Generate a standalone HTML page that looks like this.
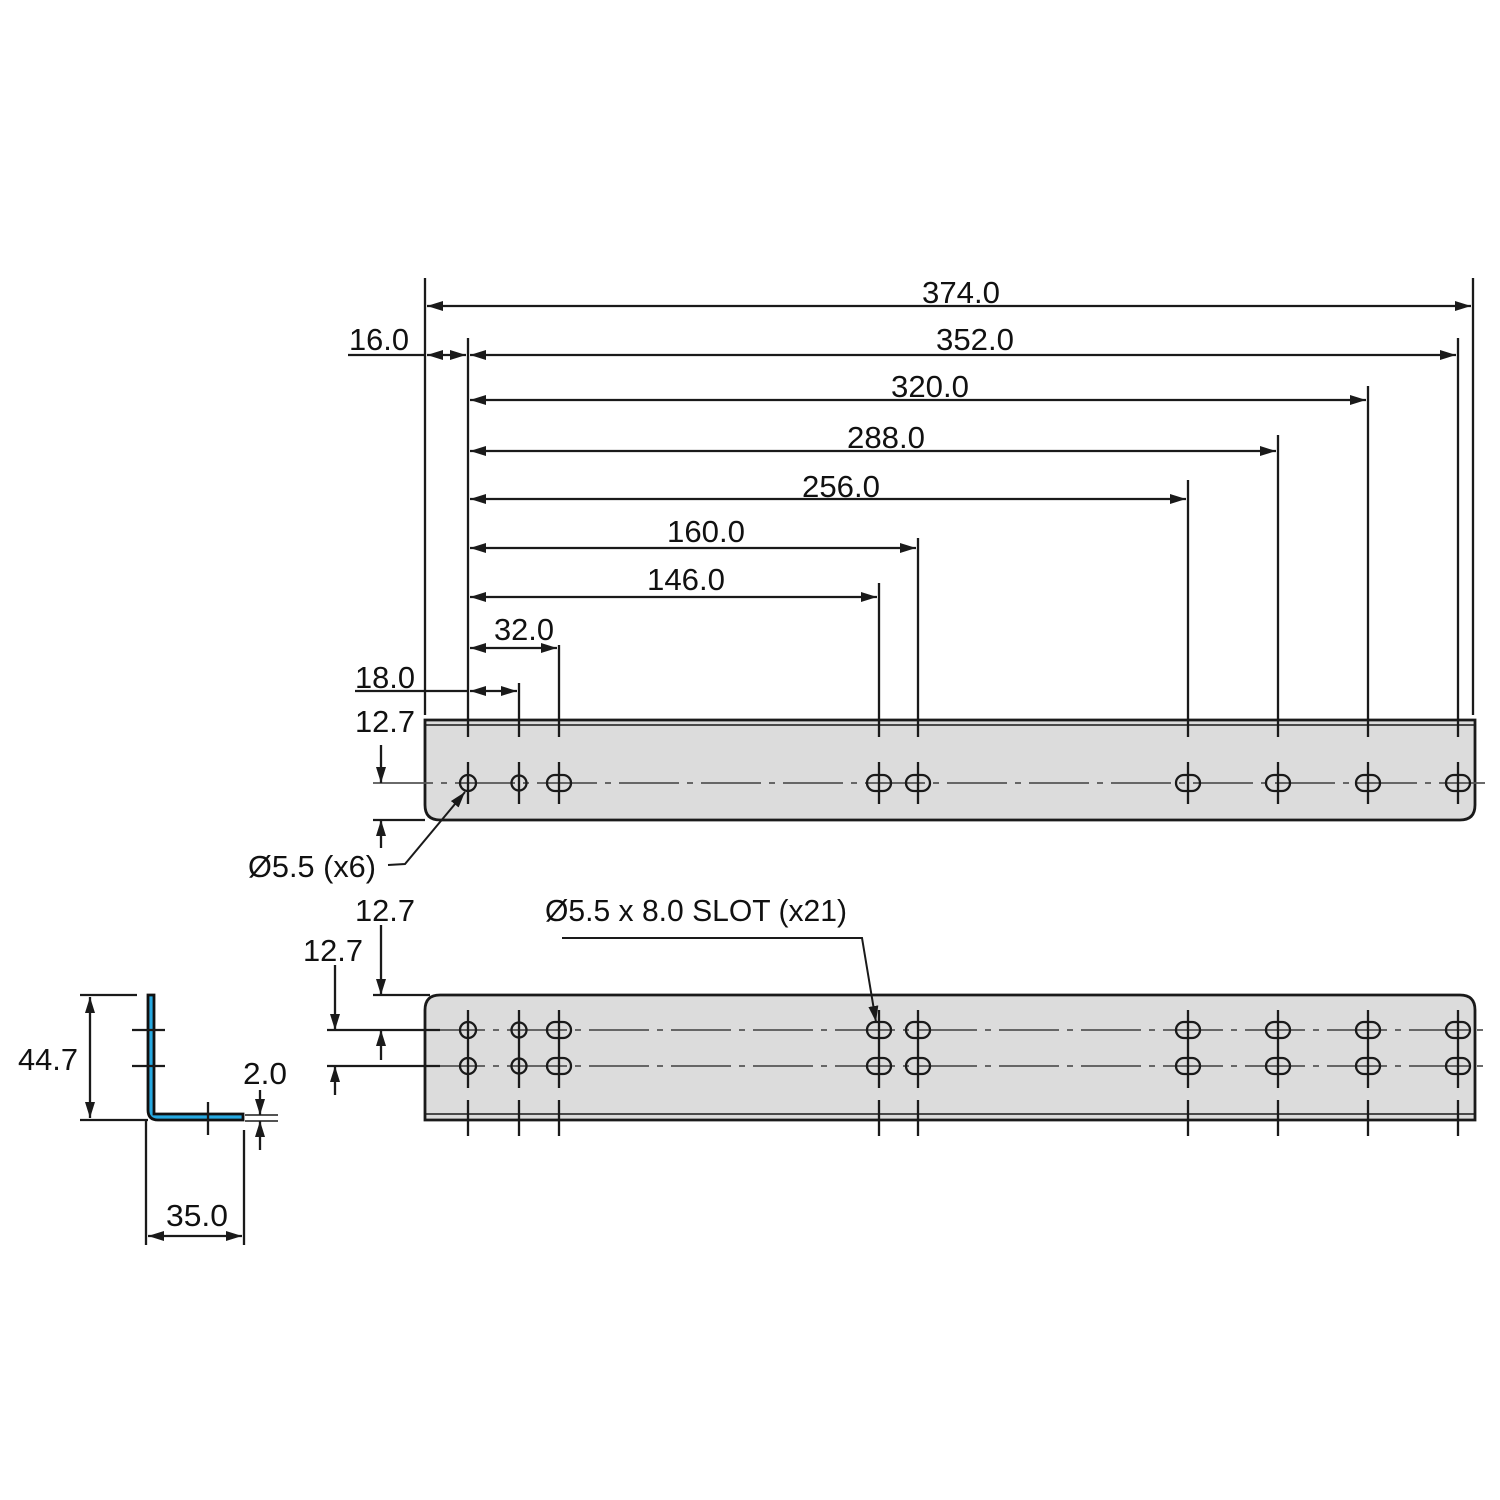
<!DOCTYPE html>
<html><head><meta charset="utf-8"><style>
html,body{margin:0;padding:0;background:#fff}
svg{display:block}
text{font-family:"Liberation Sans",sans-serif;font-size:31px;fill:#111}
</style></head><body>
<svg width="1500" height="1500" viewBox="0 0 1500 1500" xmlns="http://www.w3.org/2000/svg">
<defs>
<marker id="a" viewBox="0 0 16 10" refX="16" refY="5" markerWidth="16" markerHeight="10" markerUnits="userSpaceOnUse" orient="auto-start-reverse"><path d="M0,0 L16,5 L0,10 Z" fill="#1a1a1a"/></marker>
<g id="slot"><rect x="-12" y="-8" width="24" height="16" rx="8" fill="none" stroke="#1a1a1a" stroke-width="2.3"/></g>
<g id="circ"><circle r="8" fill="none" stroke="#1a1a1a" stroke-width="2.3"/></g>
<g id="circs"><circle r="7.5" fill="none" stroke="#1a1a1a" stroke-width="2.3"/></g>
</defs>
<g stroke="#1a1a1a" stroke-width="2.3" fill="none">
<path d="M425,720 H1475 V805 Q1475,820 1460,820 H440 Q425,820 425,805 Z" fill="#dcdcdc" stroke-width="2.8"/>
<line x1="425" y1="725" x2="1475" y2="725" stroke-width="1.5"/>
<line x1="373" y1="783" x2="1485" y2="783" stroke="#555" stroke-width="1.8" stroke-dasharray="60,8,6,8"/>
<line x1="373" y1="820" x2="425" y2="820"/>
<line x1="425" y1="278" x2="425" y2="715"/>
<line x1="1473" y1="278" x2="1473" y2="715"/>
<line x1="468" y1="338" x2="468" y2="737"/>
<line x1="1458" y1="338" x2="1458" y2="737"/>
<line x1="1368" y1="386" x2="1368" y2="737"/>
<line x1="1278" y1="435" x2="1278" y2="737"/>
<line x1="1188" y1="480" x2="1188" y2="737"/>
<line x1="918" y1="538" x2="918" y2="737"/>
<line x1="879" y1="583" x2="879" y2="737"/>
<line x1="559" y1="645" x2="559" y2="737"/>
<line x1="519" y1="683" x2="519" y2="737"/>
<g>
<line x1="468" y1="762" x2="468" y2="804"/><line x1="519" y1="762" x2="519" y2="804"/><line x1="559" y1="762" x2="559" y2="804"/>
<line x1="879" y1="762" x2="879" y2="804"/><line x1="918" y1="762" x2="918" y2="804"/><line x1="1188" y1="762" x2="1188" y2="804"/>
<line x1="1278" y1="762" x2="1278" y2="804"/><line x1="1368" y1="762" x2="1368" y2="804"/><line x1="1458" y1="762" x2="1458" y2="804"/>
</g>
<line x1="427" y1="306" x2="1471" y2="306" marker-start="url(#a)" marker-end="url(#a)"/>
<line x1="470" y1="355" x2="1456" y2="355" marker-start="url(#a)" marker-end="url(#a)"/>
<line x1="348" y1="355" x2="425" y2="355"/>
<line x1="427" y1="355" x2="466" y2="355" marker-start="url(#a)" marker-end="url(#a)"/>
<line x1="470" y1="400" x2="1366" y2="400" marker-start="url(#a)" marker-end="url(#a)"/>
<line x1="470" y1="451" x2="1276" y2="451" marker-start="url(#a)" marker-end="url(#a)"/>
<line x1="470" y1="499" x2="1186" y2="499" marker-start="url(#a)" marker-end="url(#a)"/>
<line x1="470" y1="548" x2="916" y2="548" marker-start="url(#a)" marker-end="url(#a)"/>
<line x1="470" y1="597" x2="877" y2="597" marker-start="url(#a)" marker-end="url(#a)"/>
<line x1="470" y1="648" x2="557" y2="648" marker-start="url(#a)" marker-end="url(#a)"/>
<line x1="355" y1="691" x2="468" y2="691"/>
<line x1="470" y1="691" x2="517" y2="691" marker-start="url(#a)" marker-end="url(#a)"/>
<line x1="381" y1="745" x2="381" y2="783" marker-end="url(#a)"/>
<line x1="381" y1="848" x2="381" y2="820" marker-end="url(#a)"/>
<polyline points="388,865 405,864 465,792" marker-end="url(#a)" stroke-width="2"/>
<path d="M425,1120 V1010 Q425,995 440,995 H1460 Q1475,995 1475,1010 V1120 Z" fill="#dcdcdc" stroke-width="2.8"/>
<line x1="425" y1="1114" x2="1475" y2="1114" stroke-width="1.5"/>
<line x1="425" y1="1030" x2="1485" y2="1030" stroke="#555" stroke-width="1.8" stroke-dasharray="60,8,6,8"/>
<line x1="425" y1="1066" x2="1485" y2="1066" stroke="#555" stroke-width="1.8" stroke-dasharray="60,8,6,8"/>
<line x1="327" y1="1030" x2="440" y2="1030"/>
<line x1="327" y1="1066" x2="440" y2="1066"/>
<line x1="373" y1="995" x2="430" y2="995"/>
<g>
<line x1="468" y1="1010" x2="468" y2="1088"/><line x1="519" y1="1010" x2="519" y2="1088"/><line x1="559" y1="1010" x2="559" y2="1088"/>
<line x1="879" y1="1010" x2="879" y2="1088"/><line x1="918" y1="1010" x2="918" y2="1088"/><line x1="1188" y1="1010" x2="1188" y2="1088"/>
<line x1="1278" y1="1010" x2="1278" y2="1088"/><line x1="1368" y1="1010" x2="1368" y2="1088"/><line x1="1458" y1="1010" x2="1458" y2="1088"/>
<line x1="468" y1="1100" x2="468" y2="1136"/><line x1="519" y1="1100" x2="519" y2="1136"/><line x1="559" y1="1100" x2="559" y2="1136"/>
<line x1="879" y1="1100" x2="879" y2="1136"/><line x1="918" y1="1100" x2="918" y2="1136"/><line x1="1188" y1="1100" x2="1188" y2="1136"/>
<line x1="1278" y1="1100" x2="1278" y2="1136"/><line x1="1368" y1="1100" x2="1368" y2="1136"/><line x1="1458" y1="1100" x2="1458" y2="1136"/>
</g>
<line x1="381" y1="925" x2="381" y2="995" marker-end="url(#a)"/>
<line x1="381" y1="1060" x2="381" y2="1030" marker-end="url(#a)"/>
<line x1="335" y1="965" x2="335" y2="1030" marker-end="url(#a)"/>
<line x1="335" y1="1095" x2="335" y2="1066" marker-end="url(#a)"/>
<polyline points="562,938 862,938 876,1022" marker-end="url(#a)" stroke-width="2"/>
<path d="M148,995 V1110 Q148,1120 158,1120 H243 V1114 H154 V995 Z" fill="#27a9e1" stroke="#111" stroke-width="2.8"/>
<line x1="132" y1="1030" x2="165" y2="1030"/>
<line x1="132" y1="1066" x2="165" y2="1066"/>
<line x1="208" y1="1102" x2="208" y2="1135"/>
<line x1="80" y1="995" x2="137" y2="995"/>
<line x1="80" y1="1120" x2="148" y2="1120"/>
<line x1="90" y1="997" x2="90" y2="1118" marker-start="url(#a)" marker-end="url(#a)"/>
<line x1="245" y1="1115" x2="278" y2="1115" stroke-width="1.5"/>
<line x1="245" y1="1121" x2="278" y2="1121" stroke-width="1.5"/>
<line x1="260" y1="1090" x2="260" y2="1115" marker-end="url(#a)"/>
<line x1="260" y1="1150" x2="260" y2="1121" marker-end="url(#a)"/>
<line x1="146" y1="1120" x2="146" y2="1245"/>
<line x1="244" y1="1130" x2="244" y2="1245"/>
<line x1="148" y1="1236" x2="242" y2="1236" marker-start="url(#a)" marker-end="url(#a)"/>
</g>
<g fill="none">
<use href="#circ" x="468" y="783"/><use href="#circs" x="519" y="783"/>
<use href="#slot" x="559" y="783"/><use href="#slot" x="879" y="783"/><use href="#slot" x="918" y="783"/>
<use href="#slot" x="1188" y="783"/><use href="#slot" x="1278" y="783"/><use href="#slot" x="1368" y="783"/><use href="#slot" x="1458" y="783"/>
<use href="#circ" x="468" y="1030"/><use href="#circs" x="519" y="1030"/>
<use href="#slot" x="559" y="1030"/><use href="#slot" x="879" y="1030"/><use href="#slot" x="918" y="1030"/>
<use href="#slot" x="1188" y="1030"/><use href="#slot" x="1278" y="1030"/><use href="#slot" x="1368" y="1030"/><use href="#slot" x="1458" y="1030"/>
<use href="#circ" x="468" y="1066"/><use href="#circs" x="519" y="1066"/>
<use href="#slot" x="559" y="1066"/><use href="#slot" x="879" y="1066"/><use href="#slot" x="918" y="1066"/>
<use href="#slot" x="1188" y="1066"/><use href="#slot" x="1278" y="1066"/><use href="#slot" x="1368" y="1066"/><use href="#slot" x="1458" y="1066"/>
</g>
<text x="922" y="303" textLength="78" lengthAdjust="spacingAndGlyphs">374.0</text>
<text x="936" y="350" textLength="78" lengthAdjust="spacingAndGlyphs">352.0</text>
<text x="891" y="397" textLength="78" lengthAdjust="spacingAndGlyphs">320.0</text>
<text x="847" y="448" textLength="78" lengthAdjust="spacingAndGlyphs">288.0</text>
<text x="802" y="497" textLength="78" lengthAdjust="spacingAndGlyphs">256.0</text>
<text x="667" y="542" textLength="78" lengthAdjust="spacingAndGlyphs">160.0</text>
<text x="647" y="590" textLength="78" lengthAdjust="spacingAndGlyphs">146.0</text>
<text x="494" y="640" textLength="60" lengthAdjust="spacingAndGlyphs">32.0</text>
<text x="349" y="350" textLength="60" lengthAdjust="spacingAndGlyphs">16.0</text>
<text x="355" y="688" textLength="60" lengthAdjust="spacingAndGlyphs">18.0</text>
<text x="355" y="732" textLength="60" lengthAdjust="spacingAndGlyphs">12.7</text>
<text x="248" y="877" textLength="128" lengthAdjust="spacingAndGlyphs">Ø5.5 (x6)</text>
<text x="355" y="921" textLength="60" lengthAdjust="spacingAndGlyphs">12.7</text>
<text x="303" y="961" textLength="60" lengthAdjust="spacingAndGlyphs">12.7</text>
<text x="545" y="921" textLength="302" lengthAdjust="spacingAndGlyphs">Ø5.5 x 8.0 SLOT (x21)</text>
<text x="18" y="1070" textLength="60" lengthAdjust="spacingAndGlyphs">44.7</text>
<text x="243" y="1084" textLength="44" lengthAdjust="spacingAndGlyphs">2.0</text>
<text x="166" y="1226" textLength="62" lengthAdjust="spacingAndGlyphs">35.0</text>
</svg>
</body></html>
